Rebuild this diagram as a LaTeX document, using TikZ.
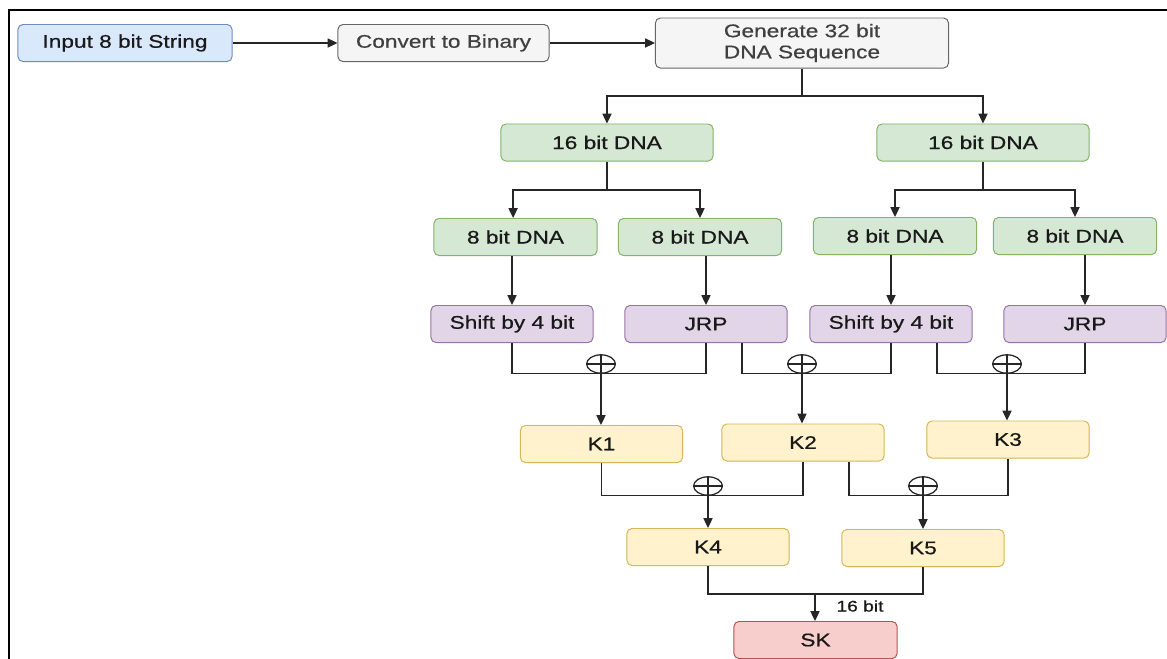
\documentclass[tikz,border=0pt]{standalone}
\usepackage{fontspec}
\setmainfont{Liberation Sans}[FakeStretch=1.24, FakeBold=0.6]
\usetikzlibrary{arrows.meta,shapes.geometric}
\definecolor{blueFill}{HTML}{DAE8FC}
\definecolor{blueLine}{HTML}{6C8EBF}
\definecolor{greyFill}{HTML}{F5F5F5}
\definecolor{greyLine}{HTML}{666666}
\definecolor{greenFill}{HTML}{D5E8D4}
\definecolor{greenLine}{HTML}{82B366}
\definecolor{purpleFill}{HTML}{E1D5E7}
\definecolor{purpleLine}{HTML}{9673A6}
\definecolor{yellowFill}{HTML}{FFF2CC}
\definecolor{yellowLine}{HTML}{D6B656}
\definecolor{redFill}{HTML}{F8CECC}
\definecolor{redLine}{HTML}{B85450}
\tikzset{
	box/.style={draw, rounded corners=3.5pt, line width=0.7pt, inner sep=0pt,
		minimum width=4.05cm, minimum height=0.925cm, align=center,
		text=black!90, font=\fontsize{13}{15}\selectfont},
	inbox/.style={box, draw=blueLine, fill=blueFill, minimum width=5.35cm},
	greybox/.style={box, draw=greyLine, fill=greyFill, text=black!75},
	dnabox/.style={box, draw=greenLine, fill=greenFill},
	opbox/.style={box, draw=purpleLine, fill=purpleFill},
	keybox/.style={box, draw=yellowLine, fill=yellowFill},
	skbox/.style={box, draw=redLine, fill=redFill, minimum width=4.075cm},
	wire/.style={line width=0.9pt, draw=black!85},
	arrowwire/.style={wire, -{Triangle[length=7pt,width=6.5pt]}},
	xorsym/.style={draw=black!85, ellipse, line width=0.9pt, inner sep=0pt,
		minimum width=0.72cm, minimum height=0.46cm,
		path picture={\draw[line width=0.9pt, black!85]
			(path picture bounding box.north) -- (path picture bounding box.south)
			(path picture bounding box.west) -- (path picture bounding box.east);}}
}
\begin{document}
\begin{tikzpicture}[x=0.025cm, y=-0.025cm]
	\useasboundingbox (0,0) rectangle (1167,659);
	\draw [line width=1.5pt] (9,659) -- (9,10) -- (1167,10);
	\node [inbox] (input) at (125,43) {Input 8 bit String};
	\node [greybox, minimum width=5.275cm] (binary) at (443.5,43) {Convert to Binary};
	\node [greybox, minimum width=7.325cm, minimum height=1.25cm] (gen) at (802,43) {Generate 32 bit\\DNA Sequence};
	\node [dnabox, minimum width=5.3cm] (dnaA) at (607,142.5) {16 bit DNA};
	\node [dnabox, minimum width=5.3cm] (dnaB) at (983,142.5) {16 bit DNA};
	\node [dnabox, minimum width=4.075cm] (dnaA1) at (515.5,237) {8 bit DNA};
	\node [dnabox, minimum width=4.075cm] (dnaA2) at (700,237) {8 bit DNA};
	\node [dnabox, minimum width=4.075cm] (dnaB1) at (895,236) {8 bit DNA};
	\node [dnabox, minimum width=4.075cm] (dnaB2) at (1075,236) {8 bit DNA};
	\node [opbox] (shiftA) at (512,324) {Shift by 4 bit};
	\node [opbox] (jrpA) at (706,324) {JRP};
	\node [opbox] (shiftB) at (891,324) {Shift by 4 bit};
	\node [opbox] (jrpB) at (1085,324) {JRP};
	\node [xorsym] (xor1) at (601,364) {};
	\node [xorsym] (xor2) at (802,364) {};
	\node [xorsym] (xor3) at (1007,364) {};
	\node [keybox] (k1) at (601.5,444) {K1};
	\node [keybox] (k2) at (803,442.5) {K2};
	\node [keybox] (k3) at (1008,439.5) {K3};
	\node [xorsym] (xor4) at (708,486) {};
	\node [xorsym] (xor5) at (923,486) {};
	\node [keybox] (k4) at (708,547) {K4};
	\node [keybox] (k5) at (923,548) {K5};
	\node [skbox] (sk) at (815.5,640) {SK};
	\coordinate (split0) at (802,96);
	\coordinate (splitA) at (607,190);
	\coordinate (splitB) at (983,190);
	\coordinate (join) at (815,594);
	\node [text=black!90, font=\fontsize{11}{13}\selectfont] (width) at (860,606) {16 bit};
	\draw [arrowwire] (input) -- (binary);
	\draw [arrowwire] (binary) -- (gen);
	\draw [wire] (gen) -- (split0);
	\draw [arrowwire] (split0) -| (dnaA.north);
	\draw [arrowwire] (split0) -| (dnaB.north);
	\draw [wire] (dnaA) -- (splitA);
	\draw [arrowwire] (splitA) -| ([xshift=-0.06cm]dnaA1.north);
	\draw [arrowwire] (splitA) -| (dnaA2.north);
	\draw [wire] (dnaB) -- (splitB);
	\draw [arrowwire] (splitB) -| (dnaB1.north);
	\draw [arrowwire] (splitB) -| (dnaB2.north);
	\draw [arrowwire] (dnaA1.south -| shiftA.north) -- (shiftA.north);
	\draw [arrowwire] (dnaA2.south -| jrpA.north) -- (jrpA.north);
	\draw [arrowwire] (dnaB1.south -| shiftB.north) -- (shiftB.north);
	\draw [arrowwire] (dnaB2.south -| jrpB.north) -- (jrpB.north);
	\draw [wire] (shiftA.south) |- (xor1.south) -| (jrpA.south);
	\draw [wire] ([xshift=0.9cm]jrpA.south) |- (xor2.south) -| (shiftB.south);
	\draw [wire] ([xshift=1.15cm]shiftB.south) |- (xor3.south) -| (jrpB.south);
	\draw [arrowwire] (xor1.south) -- (xor1.south |- k1.north);
	\draw [arrowwire] (xor2.south) -- (xor2.south |- k2.north);
	\draw [arrowwire] (xor3.south) -- (xor3.south |- k3.north);
	\draw [wire] (k1.south) |- (xor4.south) -| (k2.south);
	\draw [wire] ([xshift=1.15cm]k2.south) |- (xor5.south) -| (k3.south);
	\draw [arrowwire] (xor4.south) -- (xor4.south |- k4.north);
	\draw [arrowwire] (xor5.south) -- (xor5.south |- k5.north);
	\draw [wire] (k4.south) |- (join) -| (k5.south);
	\draw [arrowwire] (join) -- (join |- sk.north);
\end{tikzpicture}
\end{document}
